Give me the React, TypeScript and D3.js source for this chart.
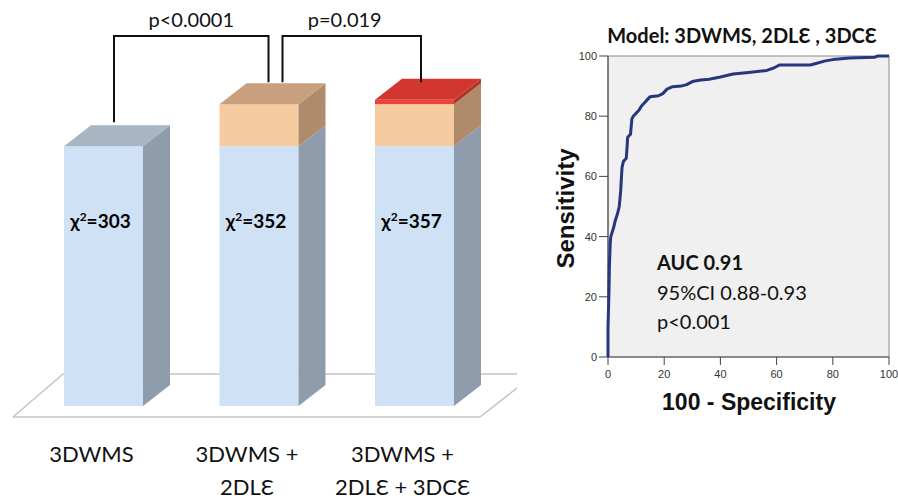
import React from 'react'
import * as d3 from 'd3'

// left chart: chi-square of the nested models
const categories = ['3DWMS', '3DWMS + 2DLƐ', '3DWMS + 2DLƐ + 3DCƐ']
const labelLines = [['3DWMS'], ['3DWMS +', '2DLƐ'], ['3DWMS +', '2DLƐ + 3DCƐ']]
const base3DWMS = [303, 303, 303]
const add2DLE = [0, 49, 49]
const add3DCE = [0, 0, 5]
const chiTotals = [303, 352, 357]
const comparisons = [
  { from: 0, to: 1, label: 'p<0.0001' },
  { from: 1, to: 2, label: 'p=0.019' },
]

// right chart: ROC curve (100 - specificity, sensitivity)
const rocX = [0, 0, 0.3, 0.5, 0.8, 1, 2, 2.5, 3.5, 4, 4.5, 4.8, 5, 5.5, 6.5, 6.8, 7, 8, 8.5, 9, 10, 11, 12, 13, 14, 15, 18, 19.5, 21, 23, 26, 28, 30, 33, 36, 40, 44.5, 50, 56.5, 59, 61, 72, 74, 77, 80, 86, 95, 96, 100]
const rocY = [0, 10, 20, 30, 38, 40, 43, 45, 48, 50, 55, 60, 63, 65, 66, 70, 73, 74, 79, 80, 81, 82, 83.5, 84.5, 85.5, 86.5, 86.8, 87.5, 89, 89.8, 90, 90.5, 91.5, 92, 92.3, 93, 94, 94.5, 95.2, 96, 97, 97, 97.5, 98.3, 98.8, 99.3, 99.6, 100, 100]
const rocTicks = [0, 20, 40, 60, 80, 100]

const segColors = [
  { front: '#cfe1f5', side: '#8e9cab', top: '#a8b5c3' },
  { front: '#f6cb9f', side: '#b08b6b', top: '#c9a07d' },
  { front: '#e8463c', side: '#b5322a', top: '#d1362f' },
]

const DX = 27
const DY = 21
const calibri = "Lato, 'Open Sans', 'DejaVu Sans', sans-serif"
const arial = "'Liberation Sans', Arial, sans-serif"

export default function App() {
  const x = d3.scaleBand<string>().domain(categories).range([64, 454]).paddingInner(0.492)
  const y = d3.scaleLinear().domain([0, 400]).range([406, 63])
  const w = x.bandwidth()
  const stack = [base3DWMS, add2DLE, add3DCE]

  const rx = d3.scaleLinear().domain([0, 100]).range([608, 889])
  const ry = d3.scaleLinear().domain([0, 100]).range([357, 56])
  const rocLine = d3.line<number>().x((d) => rx(rocX[d])).y((d) => ry(rocY[d]))
  const rocIdx = rocX.map((_, i) => i)

  const y0 = y(0)
  const floorL = 13
  const floorR = 480

  // bracket ends sit on the tops of the bars
  const bracketEnds = [
    { x: x(categories[0])! + 50, y: y(chiTotals[0]) - 24 },
    { x: x(categories[1])! + 49, y: y(chiTotals[1]) - 22 },
    { x: x(categories[1])! + 63, y: y(chiTotals[1]) - 22 },
    { x: x(categories[2])! + 46, y: y(chiTotals[1]) - 22 },
  ]
  const bracketTop = 36

  return (
    <div style={{ position: 'absolute', left: 0, top: 0 }}>
      <svg width={898} height={499} style={{ display: 'block', background: '#fff' }}>
        {/* floor */}
        <g stroke="#c4c4c4" strokeWidth={1.5} fill="none">
          <line x1={floorL} y1={y0 + 11} x2={floorR} y2={y0 + 11} />
          <line x1={floorL} y1={y0 + 11} x2={floorL + 50} y2={y0 - 32} />
          <line x1={floorL + 50} y1={y0 - 32} x2={517} y2={y0 - 32} />
          <line x1={floorR} y1={y0 + 11} x2={517} y2={y0 - 18} />
        </g>

        {/* bars */}
        {categories.map((c, i) => {
          const bx = x(c)!
          let acc = 0
          const segs = stack
            .map((s, k) => {
              const v = s[i]
              const seg = { k, lo: acc, hi: acc + v }
              acc += v
              return seg
            })
            .filter((s) => s.hi > s.lo)
          const topK = segs[segs.length - 1].k
          return (
            <g key={c}>
              {segs.map((s) => {
                const yt = y(s.hi)
                const yb = y(s.lo)
                const col = segColors[s.k]
                return (
                  <g key={s.k}>
                    <rect x={bx} y={yt} width={w} height={yb - yt} fill={col.front} />
                    <polygon
                      points={`${bx + w},${yt} ${bx + w + DX},${yt - DY} ${bx + w + DX},${yb - DY} ${bx + w},${yb}`}
                      fill={col.side}
                    />
                    {s.k === topK && (
                      <polygon
                        points={`${bx},${yt} ${bx + DX},${yt - DY} ${bx + w + DX},${yt - DY} ${bx + w},${yt}`}
                        fill={col.top}
                      />
                    )}
                  </g>
                )
              })}
              <text
                x={bx + w / 2 - 3}
                y={228}
                textAnchor="middle"
                fontFamily={calibri}
                fontWeight="bold"
                fontSize={19}
                fill="#000"
              >
                χ<tspan fontSize={12} dy={-7}>2</tspan>
                <tspan dy={7}>={chiTotals[i]}</tspan>
              </text>
              <text textAnchor="middle" fontFamily={calibri} fontSize={22} fill="#111">
                {labelLines[i].map((l, j) => (
                  <tspan key={j} x={bx + w / 2 - 12} y={462 + j * 33}>
                    {l}
                  </tspan>
                ))}
              </text>
            </g>
          )
        })}

        {/* significance brackets */}
        {comparisons.map((cmp, j) => {
          const a = bracketEnds[j * 2]
          const b = bracketEnds[j * 2 + 1]
          return (
            <g key={cmp.label}>
              <path
                d={`M${a.x},${a.y}V${bracketTop}H${b.x}V${b.y}`}
                fill="none"
                stroke="#111"
                strokeWidth={2}
              />
              <text
                x={(a.x + b.x) / 2 - j * 7}
                y={27}
                textAnchor="middle"
                fontFamily={calibri}
                fontSize={20}
                fill="#111"
              >
                {cmp.label}
              </text>
            </g>
          )
        })}

        {/* ROC panel */}
        <text x={742} y={43} textAnchor="middle" fontFamily={calibri} fontWeight="bold" fontSize={20} fill="#111">
          Model: 3DWMS, 2DLƐ , 3DCƐ
        </text>
        <rect x={rx(0)} y={ry(100)} width={rx(100) - rx(0)} height={ry(0) - ry(100)} fill="#f0f0f0" stroke="#8a8a8a" strokeWidth={1} />
        <line x1={rx(0)} y1={ry(0)} x2={rx(0)} y2={ry(100)} stroke="#555" strokeWidth={1.2} />
        <line x1={rx(0)} y1={ry(0)} x2={rx(100)} y2={ry(0)} stroke="#555" strokeWidth={1.2} />
        {rocTicks.map((t) => (
          <g key={'y' + t}>
            <line x1={rx(0) - 9} x2={rx(0)} y1={ry(t)} y2={ry(t)} stroke="#444" strokeWidth={1} />
            <text x={rx(0) - 11} y={ry(t) + 4} textAnchor="end" fontFamily={arial} fontSize={11} fill="#333">
              {t}
            </text>
          </g>
        ))}
        {rocTicks.map((t) => (
          <g key={'x' + t}>
            <line x1={rx(t)} x2={rx(t)} y1={ry(0)} y2={ry(0) + 8} stroke="#444" strokeWidth={1} />
            <text x={rx(t)} y={ry(0) + 21} textAnchor="middle" fontFamily={arial} fontSize={11} fill="#333">
              {t}
            </text>
          </g>
        ))}
        <path d={rocLine(rocIdx) ?? ''} fill="none" stroke="#26367f" strokeWidth={3} strokeLinejoin="round" />
        <text
          transform={`translate(574, ${(ry(0) + ry(100)) / 2 + 2}) rotate(-90)`}
          textAnchor="middle"
          fontFamily={arial}
          fontWeight="bold"
          fontSize={24}
          fill="#111"
        >
          Sensitivity
        </text>
        <text x={749} y={410} textAnchor="middle" fontFamily={arial} fontWeight="bold" fontSize={23} fill="#111">
          100 - Specificity
        </text>
        <g fontFamily={calibri} fontSize={20} fill="#111">
          <text x={657} y={270} fontWeight="bold">AUC 0.91</text>
          <text x={657} y={300}>95%CI 0.88-0.93</text>
          <text x={657} y={329}>p&lt;0.001</text>
        </g>
      </svg>
    </div>
  )
}
